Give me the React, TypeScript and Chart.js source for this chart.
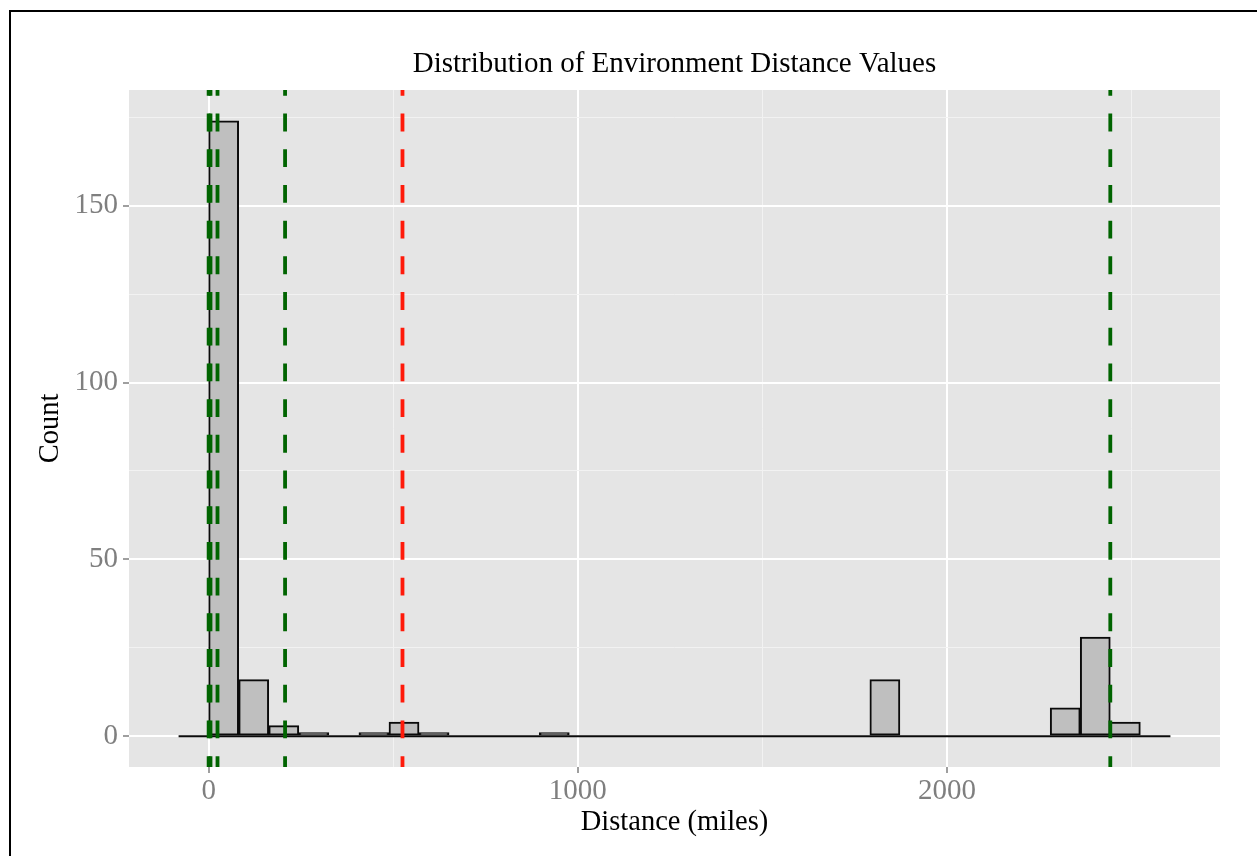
import React, { useEffect, useRef } from 'react';
import { Chart, registerables } from 'chart.js';

Chart.register(...registerables);

// ---- data ----
const TITLE = 'Distribution of Environment Distance Values';
const X_TITLE = 'Distance (miles)';
const Y_TITLE = 'Count';

const BIN_WIDTH = 81.4;
const BIN_START = -81.4;
const COUNTS = [
  0, 174, 16, 3, 1, 0, 1, 4, 1, 0, 0, 0, 1,
  0, 0, 0, 0, 0, 0, 0, 0, 0, 0,
  16,
  0, 0, 0, 0, 0,
  8, 28, 4, 0,
];

const GREEN_LINES = [0, 5, 24, 207, 2442];
const RED_LINES = [525];

const X_RANGE = [-215.7, 2739.1];
const Y_RANGE = [-8.7, 182.7];

const X_TICK_LABELS = [0, 1000, 2000];
const X_MINOR = [500, 1500, 2500];
const Y_TICK_LABELS = [0, 50, 100, 150];
const Y_MINOR = [25, 75, 125, 175];

const FONT = 'Liberation Serif';

export default function App() {
  const ref = useRef<HTMLCanvasElement | null>(null);

  useEffect(() => {
    if (!ref.current) return;

    const panelBg = {
      id: 'panelBg',
      beforeDraw(chart: any) {
        const { ctx, chartArea: a } = chart;
        ctx.save();
        ctx.fillStyle = '#e5e5e5';
        ctx.fillRect(a.left, a.top, a.right - a.left, a.bottom - a.top);
        ctx.restore();
      },
    };

    const vline = (v: number, color: string) => ({
      type: 'line' as const,
      data: [
        { x: v, y: Y_RANGE[0] },
        { x: v, y: Y_RANGE[1] },
      ],
      borderColor: color,
      borderWidth: 3.8,
      borderDash: [17.85, 17.85],
      borderDashOffset: 7,
      pointRadius: 0,
      order: 1,
    });

    const bars = COUNTS.map((c, i) => ({ x: BIN_START + (i + 0.5) * BIN_WIDTH, y: c }));
    const binEnd = BIN_START + COUNTS.length * BIN_WIDTH;

    const xGrid = [...X_TICK_LABELS, ...X_MINOR].sort((a, b) => a - b);
    const yGrid = [...Y_TICK_LABELS, ...Y_MINOR].sort((a, b) => a - b);

    const tickFont = { family: FONT, size: 29, weight: 'normal' as const };
    const titleFont = { family: FONT, size: 28.5, weight: 'normal' as const, lineHeight: 1.2 };

    const chart = new Chart(ref.current, {
      type: 'bar',
      data: {
        datasets: [
          {
            type: 'bar',
            data: bars,
            backgroundColor: '#bfbfbf',
            borderColor: '#0a0a0a',
            borderWidth: 2,
            borderSkipped: false,
            barPercentage: 1,
            categoryPercentage: 1,
            order: 3,
          } as any,
          {
            type: 'line',
            data: [
              { x: BIN_START, y: 0 },
              { x: binEnd, y: 0 },
            ],
            borderColor: '#0a0a0a',
            borderWidth: 2.2,
            pointRadius: 0,
            order: 2,
          } as any,
          ...GREEN_LINES.map((v) => vline(v, '#006400') as any),
          ...RED_LINES.map((v) => vline(v, '#ff1a0a') as any),
        ],
      },
      options: {
        responsive: false,
        animation: false,
        events: [],
        layout: { padding: { left: 0, top: 0, right: 37, bottom: 0 } },
        plugins: {
          legend: { display: false },
          tooltip: { enabled: false },
          title: {
            display: true,
            text: TITLE,
            fullSize: false,
            color: '#000',
            font: { family: FONT, size: 29, weight: 'normal', lineHeight: 1.2 },
            padding: { top: 46.5, bottom: 8.7 },
          },
        },
        scales: {
          x: {
            type: 'linear',
            min: X_RANGE[0],
            max: X_RANGE[1],
            offset: false,
            afterBuildTicks: (s: any) => {
              s.ticks = xGrid.map((v) => ({ value: v }));
            },
            afterFit: (s: any) => {
              s.height = 89;
            },
            ticks: {
              autoSkip: false,
              maxRotation: 0,
              padding: 1,
              color: '#7f7f7f',
              font: tickFont,
              callback: (v: any) => (X_TICK_LABELS.includes(Number(v)) ? String(v) : ''),
            },
            grid: {
              offset: false,
              color: (c: any) => (X_TICK_LABELS.includes(c.tick?.value) ? '#ffffff' : '#f2f2f2'),
              lineWidth: (c: any) => (X_TICK_LABELS.includes(c.tick?.value) ? 2 : 1),
              tickColor: (c: any) => (X_TICK_LABELS.includes(c.tick?.value) ? '#7f7f7f' : 'rgba(0,0,0,0)'),
              tickLength: 6,
              tickWidth: 1.5,
            },
            border: { display: false },
            title: {
              display: true,
              text: X_TITLE,
              color: '#000',
              font: titleFont,
              padding: { top: 0, bottom: 16.8 },
            },
          },
          y: {
            type: 'linear',
            min: Y_RANGE[0],
            max: Y_RANGE[1],
            afterBuildTicks: (s: any) => {
              s.ticks = yGrid.map((v) => ({ value: v }));
            },
            afterFit: (s: any) => {
              s.width = 129;
            },
            ticks: {
              autoSkip: false,
              padding: 5,
              color: '#7f7f7f',
              font: tickFont,
              callback: (v: any) => (Y_TICK_LABELS.includes(Number(v)) ? String(v) : ''),
            },
            grid: {
              color: (c: any) => (Y_TICK_LABELS.includes(c.tick?.value) ? '#ffffff' : '#f2f2f2'),
              lineWidth: (c: any) => (Y_TICK_LABELS.includes(c.tick?.value) ? 2 : 1),
              tickColor: (c: any) => (Y_TICK_LABELS.includes(c.tick?.value) ? '#7f7f7f' : 'rgba(0,0,0,0)'),
              tickLength: 6,
              tickWidth: 1.5,
            },
            border: { display: false },
            title: {
              display: true,
              text: Y_TITLE,
              color: '#000',
              font: titleFont,
              padding: { top: 33.9, bottom: 0 },
            },
          },
        },
      } as any,
      plugins: [panelBg],
    });

    return () => chart.destroy();
  }, []);

  return (
    <div style={{ position: 'absolute', left: 0, top: 0, width: 1257, height: 856, background: '#fff' }}>
      <canvas ref={ref} width={1257} height={856} style={{ display: 'block', width: 1257, height: 856 }} />
      <div style={{ position: 'absolute', left: 9, top: 10, width: 1248, height: 2, background: '#000' }} />
      <div style={{ position: 'absolute', left: 9, top: 10, width: 2, height: 846, background: '#000' }} />
    </div>
  );
}
